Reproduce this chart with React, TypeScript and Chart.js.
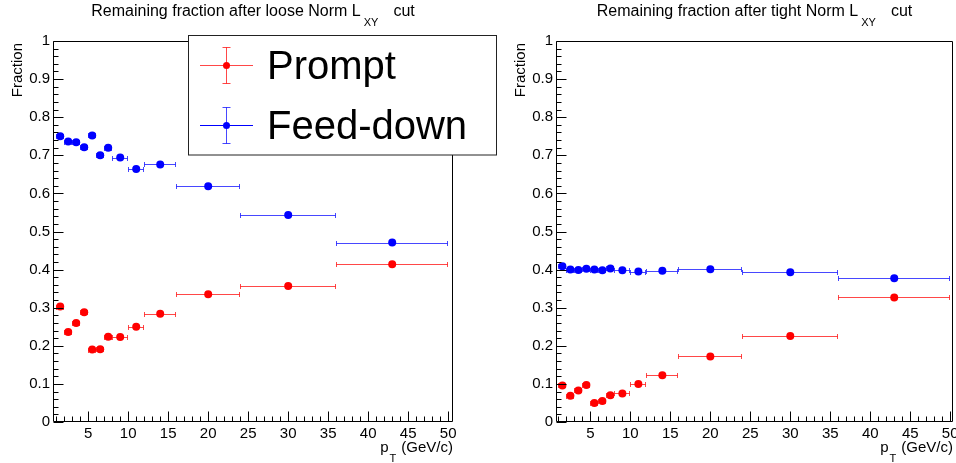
import React, { useEffect, useRef } from "react";
import { Chart, registerables } from "chart.js";

Chart.register(...registerables);

// ---- data ----
const ptCenters = [1.5, 2.5, 3.5, 4.5, 5.5, 6.5, 7.5, 9, 11, 14, 20, 30, 43];
const ptLow = [1, 2, 3, 4, 5, 6, 7, 8, 10, 12, 16, 24, 36];
const ptHigh = [2, 3, 4, 5, 6, 7, 8, 10, 12, 16, 24, 36, 50];

const promptLoose = [0.303, 0.236, 0.26, 0.288, 0.19, 0.191, 0.224, 0.223, 0.25, 0.284, 0.335, 0.357, 0.414];
const feedLoose = [0.75, 0.736, 0.734, 0.721, 0.752, 0.7, 0.72, 0.694, 0.664, 0.676, 0.619, 0.543, 0.471];
const promptTight = [0.096, 0.069, 0.083, 0.097, 0.05, 0.055, 0.07, 0.075, 0.1, 0.123, 0.172, 0.226, 0.327];
const feedTight = [0.409, 0.4, 0.399, 0.402, 0.4, 0.398, 0.403, 0.398, 0.395, 0.397, 0.401, 0.393, 0.377];

const xTickValues = [5, 10, 15, 20, 25, 30, 35, 40, 45, 50];
const yTickValues = [0, 0.1, 0.2, 0.3, 0.4, 0.5, 0.6, 0.7, 0.8, 0.9, 1];
const legendLabels = ["Prompt", "Feed-down"];

const FONT = '"Liberation Sans", Arial, Helvetica, sans-serif';
const RED = "#ff0000";
const BLUE = "#0000ff";
const RED_ERR = "rgba(255,0,0,0.72)";
const BLUE_ERR = "rgba(0,0,255,0.72)";

Chart.defaults.font.family = FONT;
Chart.defaults.color = "#000";

type PanelCfg = {
  cut: string;
  prompt: number[];
  feed: number[];
  xmin: number;
  xmax: number;
  left: number; // chart-area left in canvas px
  right: number; // chart-area right in canvas px
  canvasWidth: number;
  legend: boolean;
};

function drawSubText(
  ctx: CanvasRenderingContext2D,
  parts: { t: string; sub?: boolean; gap?: number }[],
  x: number,
  y: number,
  size: number,
  subSize: number,
  subDy: number,
  align: "center" | "right"
) {
  ctx.save();
  ctx.textAlign = "left";
  ctx.textBaseline = "alphabetic";
  const widths = parts.map((p) => {
    ctx.font = `${p.sub ? subSize : size}px ${FONT}`;
    return ctx.measureText(p.t).width + (p.gap || 0);
  });
  const total = widths.reduce((a, b) => a + b, 0);
  let cx = align === "center" ? x - total / 2 : x - total;
  parts.forEach((p, i) => {
    ctx.font = `${p.sub ? subSize : size}px ${FONT}`;
    cx += p.gap || 0;
    ctx.fillText(p.t, cx, p.sub ? y + subDy : y);
    cx += widths[i] - (p.gap || 0);
  });
  ctx.restore();
}

function makePlugin(cfg: PanelCfg) {
  return {
    id: "rootStyle",
    beforeDatasetsDraw(chart: any) {
      const ctx: CanvasRenderingContext2D = chart.ctx;
      const xs = chart.scales.x;
      const ys = chart.scales.y;
      const errColors = [RED_ERR, BLUE_ERR];
      chart.data.datasets.forEach((ds: any, di: number) => {
        ctx.save();
        ctx.strokeStyle = errColors[di];
        ctx.lineWidth = 1;
        ds.data.forEach((p: any, i: number) => {
          const y = Math.round(ys.getPixelForValue(p.y)) + 0.5;
          const x1 = Math.round(xs.getPixelForValue(ptLow[i])) + 0.5;
          const x2 = Math.round(xs.getPixelForValue(ptHigh[i])) - 0.5;
          ctx.beginPath();
          ctx.moveTo(x1, y);
          ctx.lineTo(x2, y);
          ctx.moveTo(x1, y - 2.5);
          ctx.lineTo(x1, y + 2.5);
          ctx.moveTo(x2, y - 2.5);
          ctx.lineTo(x2, y + 2.5);
          ctx.stroke();
        });
        ctx.restore();
      });
    },
    afterDraw(chart: any) {
      const ctx: CanvasRenderingContext2D = chart.ctx;
      const a = chart.chartArea;
      const xs = chart.scales.x;
      const ys = chart.scales.y;
      const L = Math.round(a.left) + 0.5;
      const R = Math.round(a.right) - 0.5;
      const T = Math.round(a.top) + 0.5;
      const B = Math.round(a.bottom) - 0.5;
      ctx.save();
      ctx.strokeStyle = "#000";
      ctx.lineWidth = 1;
      ctx.beginPath();
      ctx.rect(L, T, R - L, B - T);
      ctx.stroke();
      // y ticks
      ctx.beginPath();
      for (let k = 0; k <= 50; k++) {
        const v = k * 0.02;
        const y = Math.round(ys.getPixelForValue(v)) + 0.5;
        const len = k % 5 === 0 ? 10 : 5;
        ctx.moveTo(L, y);
        ctx.lineTo(L + len, y);
      }
      // x ticks
      for (let v = 1; v <= 50; v++) {
        const x = Math.round(xs.getPixelForValue(v)) + 0.5;
        const len = v % 5 === 0 ? 10 : 5;
        ctx.moveTo(x, B);
        ctx.lineTo(x, B - len);
      }
      ctx.stroke();
      ctx.fillStyle = "#000";
      // title
      drawSubText(
        ctx,
        [
          { t: `Remaining fraction after ${cfg.cut} Norm L` },
          { t: "XY", sub: true, gap: 3 },
          { t: "cut", gap: 15 },
        ],
        (a.left + a.right) / 2,
        16,
        16,
        11,
        10,
        "center"
      );
      // x axis title
      drawSubText(
        ctx,
        [{ t: "p" }, { t: "T", sub: true, gap: 1 }, { t: "(GeV/c)", gap: 5 }],
        a.right,
        452,
        15,
        11,
        10,
        "right"
      );
      // y axis title
      ctx.save();
      ctx.translate(a.left - 35, a.top + 2);
      ctx.rotate(-Math.PI / 2);
      ctx.font = `15px ${FONT}`;
      ctx.textAlign = "right";
      ctx.textBaseline = "middle";
      ctx.fillText("Fraction", 0, 0);
      ctx.restore();

      if (cfg.legend) {
        ctx.fillStyle = "#fff";
        ctx.fillRect(188.5, 35.5, 308, 119.5);
        ctx.strokeStyle = "#222";
        ctx.strokeRect(188.5, 35.5, 308, 119.5);
        const rows = [
          { y: 65.5, col: RED, hcol: RED_ERR, vcol: RED_ERR, base: 79, label: legendLabels[0] },
          { y: 125.5, col: BLUE, hcol: BLUE, vcol: BLUE_ERR, base: 139, label: legendLabels[1] },
        ];
        const mx = 226.5;
        rows.forEach((r) => {
          ctx.lineWidth = 1;
          ctx.strokeStyle = r.hcol;
          ctx.beginPath();
          ctx.moveTo(200, r.y);
          ctx.lineTo(253, r.y);
          ctx.stroke();
          ctx.strokeStyle = r.vcol;
          ctx.beginPath();
          ctx.moveTo(mx, r.y - 18);
          ctx.lineTo(mx, r.y + 18);
          ctx.moveTo(mx - 4, r.y - 18);
          ctx.lineTo(mx + 4, r.y - 18);
          ctx.moveTo(mx - 4, r.y + 18);
          ctx.lineTo(mx + 4, r.y + 18);
          ctx.stroke();
          ctx.fillStyle = r.col;
          ctx.beginPath();
          ctx.arc(mx, r.y, 3.5, 0, Math.PI * 2);
          ctx.fill();
          ctx.fillStyle = "#000";
          ctx.font = `40px ${FONT}`;
          ctx.textAlign = "left";
          ctx.textBaseline = "alphabetic";
          ctx.fillText(r.label, 267, r.base);
        });
      }
      ctx.restore();
    },
  };
}

function makeConfig(cfg: PanelCfg): any {
  const mk = (vals: number[]) => ptCenters.map((x, i) => ({ x, y: vals[i] }));
  return {
    type: "scatter",
    data: {
      datasets: [
        {
          label: legendLabels[0],
          data: mk(cfg.prompt),
          backgroundColor: RED,
          borderColor: RED,
          borderWidth: 0,
          pointRadius: 4,
          pointHoverRadius: 4,
        },
        {
          label: legendLabels[1],
          data: mk(cfg.feed),
          backgroundColor: BLUE,
          borderColor: BLUE,
          borderWidth: 0,
          pointRadius: 4,
          pointHoverRadius: 4,
        },
      ],
    },
    options: {
      animation: false,
      responsive: false,
      devicePixelRatio: 1,
      events: [],
      layout: {
        padding: { left: 0, top: 41, right: cfg.canvasWidth - cfg.right, bottom: 0 },
      },
      plugins: {
        legend: { display: false },
        tooltip: { enabled: false },
        title: { display: false },
      },
      scales: {
        x: {
          type: "linear",
          min: cfg.xmin,
          max: cfg.xmax,
          grid: { display: false, drawTicks: false },
          border: { display: false },
          ticks: {
            autoSkip: false,
            maxRotation: 0,
            padding: 3,
            font: { size: 15, family: FONT },
            color: "#000",
            callback: (v: number) => String(v),
          },
          afterBuildTicks: (s: any) => {
            s.ticks = xTickValues.map((v) => ({ value: v }));
          },
          afterFit: (s: any) => {
            s.height = 41;
          },
        },
        y: {
          type: "linear",
          min: 0,
          max: 1,
          grid: { display: false, drawTicks: false },
          border: { display: false },
          ticks: {
            autoSkip: false,
            padding: 3,
            font: { size: 15, family: FONT },
            color: "#000",
            callback: (v: number) => String(Math.round(v * 10) / 10),
          },
          afterBuildTicks: (s: any) => {
            s.ticks = yTickValues.map((v) => ({ value: v }));
          },
          afterFit: (s: any) => {
            s.width = cfg.left;
          },
        },
      },
    },
    plugins: [makePlugin(cfg)],
  };
}

export default function App() {
  const leftRef = useRef<HTMLCanvasElement>(null);
  const rightRef = useRef<HTMLCanvasElement>(null);

  useEffect(() => {
    const c2 = new Chart(
      rightRef.current!,
      makeConfig({
        cut: "tight",
        prompt: promptTight,
        feed: feedTight,
        xmin: 0.7,
        xmax: 50.35,
        left: 78,
        right: 475,
        canvasWidth: 500,
        legend: false,
      })
    );
    const c1 = new Chart(
      leftRef.current!,
      makeConfig({
        cut: "loose",
        prompt: promptLoose,
        feed: feedLoose,
        xmin: 0.6,
        xmax: 50.6,
        left: 53,
        right: 453,
        canvasWidth: 500,
        legend: true,
      })
    );
    return () => {
      c1.destroy();
      c2.destroy();
    };
  }, []);

  return (
    <div
      style={{
        position: "fixed",
        left: 0,
        top: 0,
        width: 956,
        height: 463,
        overflow: "hidden",
        background: "#fff",
      }}
    >
      <canvas
        ref={rightRef}
        width={500}
        height={463}
        style={{ position: "absolute", left: 478, top: 0, zIndex: 1, width: 500, height: 463 }}
      />
      <canvas
        ref={leftRef}
        width={500}
        height={463}
        style={{ position: "absolute", left: 0, top: 0, zIndex: 2, width: 500, height: 463 }}
      />
    </div>
  );
}
